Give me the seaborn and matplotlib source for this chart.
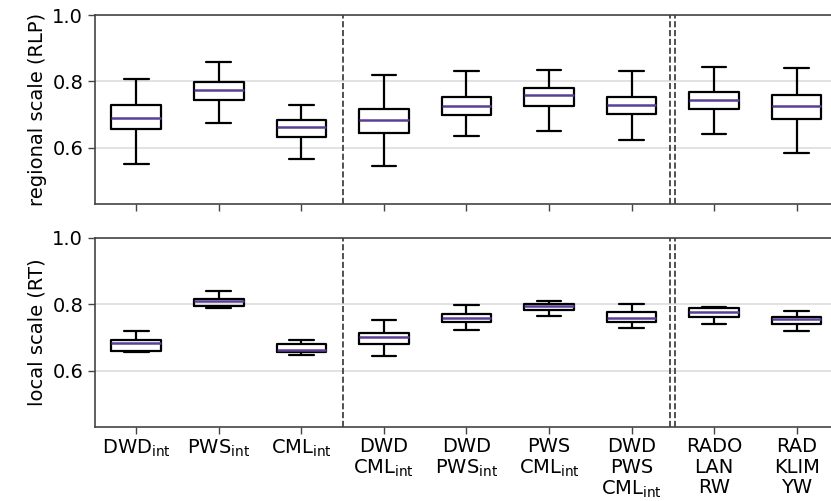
import pandas as pd
import seaborn as sns
import matplotlib
matplotlib.use("Agg")
import matplotlib.pyplot as plt

# combinations of rainfall products (x categories)
combos = ["DWD$_\\mathrm{int}$", "PWS$_\\mathrm{int}$", "CML$_\\mathrm{int}$",
          "DWD\nCML$_\\mathrm{int}$", "DWD\nPWS$_\\mathrm{int}$", "PWS\nCML$_\\mathrm{int}$",
          "DWD\nPWS\nCML$_\\mathrm{int}$", "RADO\nLAN\nRW", "RAD\nKLIM\nYW"]

# five-number summaries: min, q1, median, q3, max
rlp_min = [0.550, 0.675, 0.565, 0.544, 0.635, 0.651, 0.622, 0.641, 0.583]
rlp_q1 = [0.656, 0.745, 0.633, 0.645, 0.698, 0.724, 0.700, 0.716, 0.686]
rlp_med = [0.688, 0.775, 0.661, 0.682, 0.724, 0.758, 0.729, 0.745, 0.724]
rlp_q3 = [0.728, 0.798, 0.682, 0.717, 0.753, 0.780, 0.754, 0.768, 0.758]
rlp_max = [0.807, 0.857, 0.728, 0.819, 0.831, 0.835, 0.832, 0.844, 0.839]

rt_min = [0.656, 0.789, 0.648, 0.645, 0.723, 0.766, 0.728, 0.740, 0.718]
rt_q1 = [0.659, 0.796, 0.655, 0.679, 0.745, 0.783, 0.746, 0.761, 0.739]
rt_med = [0.683, 0.810, 0.663, 0.702, 0.757, 0.795, 0.760, 0.778, 0.755]
rt_q3 = [0.692, 0.815, 0.680, 0.712, 0.772, 0.802, 0.776, 0.790, 0.762]
rt_max = [0.718, 0.839, 0.691, 0.752, 0.797, 0.809, 0.800, 0.793, 0.781]


def long_frame(*cols):
    rows = []
    for col in cols:
        for name, v in zip(combos, col):
            rows.append({"combo": name, "value": v})
    return pd.DataFrame(rows)


df_rlp = long_frame(rlp_min, rlp_q1, rlp_med, rlp_q3, rlp_max)
df_rt = long_frame(rt_min, rt_q1, rt_med, rt_q3, rt_max)

sns.set_style("white")
plt.rcParams["font.family"] = ["DejaVu Sans"]
plt.rcParams["font.size"] = 14
plt.rcParams["text.color"] = "black"
plt.rcParams["axes.labelcolor"] = "black"
plt.rcParams["xtick.color"] = "black"
plt.rcParams["ytick.color"] = "black"

fig = plt.figure(figsize=(8.31, 5.01), dpi=100)
ax0 = fig.add_axes([0.1143, 0.593, 0.894, 0.377])
ax1 = fig.add_axes([0.1143, 0.148, 0.894, 0.377], sharex=ax0)

purple = "#5b3f95"
for ax, df, lab in [(ax0, df_rlp, "regional scale (RLP)"), (ax1, df_rt, "local scale (RT)")]:
    sns.boxplot(data=df, x="combo", y="value", order=combos, ax=ax,
                whis=(0, 100), width=0.6, fill=False, color="black",
                linewidth=1.6, showfliers=False,
                medianprops=dict(color=purple, linewidth=1.8))
    ax.axvline(2.5, color="#333333", ls="--", lw=1.2)
    ax.axvline(6.47, color="#333333", ls="--", lw=1.2)
    ax.axvline(6.53, color="#333333", ls="--", lw=1.2)
    ax.set_ylim(0.43, 1.0)
    ax.set_yticks([0.6, 0.8, 1.0])
    ax.set_xlim(-0.5, 8.5)
    ax.yaxis.grid(True, color="#dddddd", lw=1.2)
    ax.set_axisbelow(True)
    ax.set_ylabel(lab, fontsize=14)
    ax.set_xlabel("")
    ax.tick_params(axis="both", direction="out", length=5, width=1,
                   color="#444444", labelcolor="black", labelsize=14,
                   bottom=True, left=True)
    ax.tick_params(axis="x", pad=2.5)
    for sp in ax.spines.values():
        sp.set_color("#444444")
        sp.set_linewidth(1.2)

ax0.tick_params(labelbottom=False)
ax1.set_xticks(range(len(combos)))
ax1.set_xticklabels(combos, va="top", linespacing=1.1)

fig.savefig("out.png", dpi=100)
